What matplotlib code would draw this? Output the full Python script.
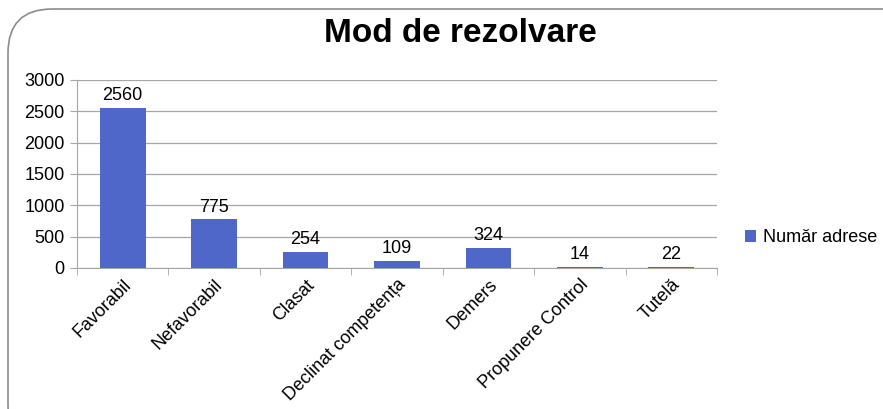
import numpy as np
import matplotlib.pyplot as plt
from matplotlib.patches import FancyBboxPatch

plt.rcParams['font.family'] = ['Liberation Sans', 'DejaVu Sans']

categories = ['Favorabil', 'Nefavorabil', 'Clasat', 'Declinat competența',
              'Demers', 'Propunere Control', 'Tutelă']
values = [2560, 775, 254, 109, 324, 14, 22]
series_name = 'Număr adrese'

W, H = 883, 409
fig = plt.figure(figsize=(W / 100, H / 100), dpi=100)

# rounded outer frame (right and bottom edges fall outside the picture)
frame = FancyBboxPatch((8 / W, -40 / H), 920 / W, (H - 9 + 40) / H,
                       boxstyle='round,pad=0,rounding_size=0.05',
                       transform=fig.transFigure, fill=False,
                       ec='#8c8c8c', lw=1.2, mutation_aspect=W / H)
fig.patches.append(frame)

ax = fig.add_axes([77 / W, (H - 268) / H, 640 / W, 188 / H])
x = np.arange(len(categories))
bars = ax.bar(x, values, width=0.5, color='#4f67c8', label=series_name, zorder=3)

fs = 13
for xi, v in zip(x, values):
    ax.text(xi, v + 60, str(v), ha='center', va='bottom', fontsize=fs)

ax.set_xlim(-0.5, len(categories) - 0.5)
ax.set_ylim(0, 3000)
ax.set_yticks(range(0, 3001, 500))
ax.yaxis.grid(True, color='#a6a6a6', lw=0.9, zorder=0)
ax.tick_params(axis='y', labelsize=fs, length=5, color='#a6a6a6', pad=4)

ax.set_xticks(x)
ax.set_xticklabels(categories, rotation=45, ha='right', rotation_mode='anchor',
                   fontsize=fs)
ax.tick_params(axis='x', length=0, pad=6)
ax.set_xticks(np.arange(-0.5, len(categories)), minor=True)
ax.tick_params(axis='x', which='minor', length=5, color='#a6a6a6')

for s in ['top', 'right']:
    ax.spines[s].set_visible(False)
for s in ['left', 'bottom']:
    ax.spines[s].set_color('#a6a6a6')

fig.text(460 / W, 1 - 33 / H, 'Mod de rezolvare', ha='center', va='center',
         fontsize=24, fontweight='bold')

ax.legend(loc='center left', bbox_to_anchor=(668 / 640, 30 / 188),
          frameon=False, fontsize=fs, handlelength=0.6, handleheight=0.6,
          handletextpad=0.4, borderaxespad=0, borderpad=0)

fig.savefig('out.png', dpi=100)
